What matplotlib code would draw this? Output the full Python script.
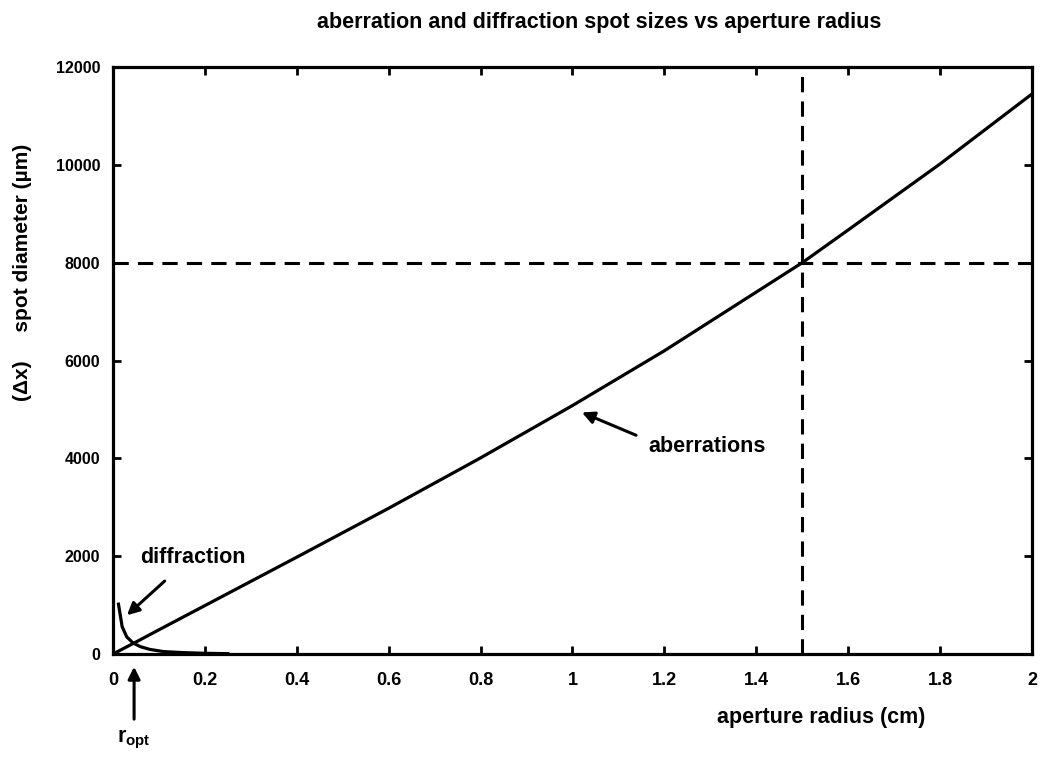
import matplotlib
matplotlib.use("Agg")
import matplotlib.pyplot as plt

# Fonts (Helvetica-like, bold)
plt.rcParams['font.family'] = ['Liberation Sans', 'DejaVu Sans']
plt.rcParams['font.weight'] = 'bold'
plt.rcParams['mathtext.fontset'] = 'custom'
plt.rcParams['mathtext.rm'] = 'Liberation Sans:bold'
plt.rcParams['mathtext.it'] = 'Liberation Sans:bold'

# Aberration spot size (um) vs aperture radius (cm)
aber_r = [0, 0.05, 0.1, 0.2, 0.4, 0.6, 0.8, 1.0, 1.2, 1.4, 1.5, 1.6, 1.8, 2.0]
aber_d = [0, 245, 495, 990, 1980, 2980, 4010, 5080, 6200, 7400, 8000, 8670, 10020, 11450]

# Diffraction spot size (um)
diff_r = [0.012, 0.02, 0.03, 0.044, 0.06, 0.08, 0.11, 0.15, 0.2, 0.25]
diff_d = [1020, 560, 350, 224, 150, 95, 50, 30, 15, 8]

# Design point
r_design = 1.5
d_design = 8000
r_opt = 0.046

fig = plt.figure(figsize=(10.41, 7.59), dpi=100)
ax = fig.add_axes([0.1085, 0.1383, 0.8829, 0.7734])

ax.plot(aber_r, aber_d, color='black', lw=2.3)
ax.plot(diff_r, diff_d, color='black', lw=2.3)

# dashed guide lines
ax.axvline(r_design, color='black', lw=2.2, dashes=(5, 3))
ax.axhline(d_design, color='black', lw=2.2, dashes=(5, 3))

ax.set_xlim(0, 2)
ax.set_ylim(0, 12000)
ax.set_xticks([0, 0.2, 0.4, 0.6, 0.8, 1, 1.2, 1.4, 1.6, 1.8, 2])
ax.set_xticklabels(['0', '0.2', '0.4', '0.6', '0.8', '1', '1.2', '1.4', '1.6', '1.8', '2'])
ax.set_yticks([0, 2000, 4000, 6000, 8000, 10000, 12000])

ax.tick_params(axis='both', direction='in', length=6, width=2, top=True, right=True)
ax.tick_params(axis='x', pad=13, labelsize=13)
ax.tick_params(axis='y', pad=9, labelsize=11.5)
for s in ax.spines.values():
    s.set_linewidth(2.3)

# Annotations
arrow = dict(arrowstyle='-|>', color='black', lw=2.2, mutation_scale=18)
ax.annotate('', xy=(0.026, 755), xytext=(0.117, 1530), arrowprops=arrow)
ax.text(0.059, 1980, 'diffraction', fontsize=15.5, va='center', ha='left')

ax.annotate('', xy=(1.015, 4960), xytext=(1.144, 4450), arrowprops=arrow)
ax.text(1.166, 4245, 'aberrations', fontsize=15.5, va='center', ha='left')

ax.annotate('', xy=(r_opt, -204), xytext=(r_opt, -1388), arrowprops=arrow,
            annotation_clip=False)
ax.text(r_opt, -1750, r'$\mathrm{r_{opt}}$', fontsize=15.5, va='center', ha='center',
        clip_on=False)

fig.text(0.576, 0.971, 'aberration and diffraction spot sizes vs aperture radius',
         fontsize=15.5, ha='center', va='center')
fig.text(0.789, 0.055, 'aperture radius (cm)', fontsize=15.5, ha='center', va='center')
fig.text(0.022, 0.641, '(\u0394x)     spot diameter (\u00b5m)', fontsize=15,
         ha='center', va='center', rotation=90)

fig.savefig('out.png', dpi=100)
